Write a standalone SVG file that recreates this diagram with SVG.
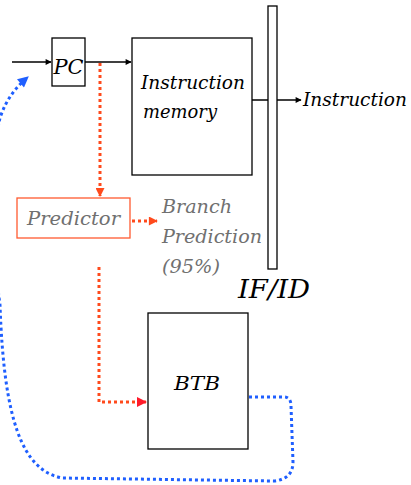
<svg xmlns="http://www.w3.org/2000/svg" width="411" height="485" viewBox="0 0 411 485">
  <style>
    .box { fill: #fff; stroke: #000; stroke-width: 1.3; }
    .lbl { font-family: "DejaVu Serif", serif; font-style: italic; fill: #000; }
    .gray { font-family: "DejaVu Serif", serif; font-style: italic; fill: #707070; }
    .wire { stroke: #000; stroke-width: 1.3; fill: none; }
    .red { stroke: #ff4a1c; stroke-width: 3; stroke-dasharray: 3 3; fill: none; }
    .blue { stroke: #1f5fff; stroke-width: 3; stroke-dasharray: 3 3; fill: none; }
  </style>
  <defs>
    <marker id="ah" viewBox="0 0 10 10" refX="9" refY="5" markerWidth="8" markerHeight="6" markerUnits="userSpaceOnUse" orient="auto">
      <path d="M0,0 L10,5 L0,10 z" fill="#000"/>
    </marker>
    <marker id="ahr" viewBox="0 0 10 10" refX="9" refY="5" markerWidth="10" markerHeight="9" markerUnits="userSpaceOnUse" orient="auto">
      <path d="M0,0 L10,5 L0,10 z" fill="#ff4a1c"/>
    </marker>
    <marker id="ahred" viewBox="0 0 10 10" refX="9" refY="5" markerWidth="12" markerHeight="10" markerUnits="userSpaceOnUse" orient="auto">
      <path d="M0,0 L10,5 L0,10 z" fill="#ff1a2a"/>
    </marker>
    <marker id="ahb" viewBox="0 0 10 10" refX="9" refY="5" markerWidth="12" markerHeight="11" markerUnits="userSpaceOnUse" orient="auto">
      <path d="M0,0 L10,5 L0,10 z" fill="#1f5fff"/>
    </marker>
  </defs>

  <g id="connectors">
    <line class="wire" x1="12" y1="62" x2="51" y2="62" marker-end="url(#ah)"/>
    <line class="wire" x1="85" y1="62" x2="131" y2="62" marker-end="url(#ah)"/>
    <line class="wire" x1="252" y1="100" x2="301" y2="100" marker-end="url(#ah)"/>
    <path class="red" d="M100,63 L100,196" marker-end="url(#ahr)"/>
    <path class="red" d="M132,221 L157,221" marker-end="url(#ahr)"/>
    <path class="red" d="M99,267 L99,402 L146,402" marker-end="url(#ahred)"/>
    <!-- BTB target feeds back round the left edge into the PC -->
    <path class="blue" d="M249,397 L284,397 Q291,397 291,406 L293,462 Q293,479 274,481 L62,478 C22,470 4,420 0,305 C-10,230 -10,160 0,118 C6,100 15,88 28,77" marker-end="url(#ahb)"/>
  </g>

  <g id="pc">
    <rect class="box" x="52" y="38" width="33" height="48"/>
    <text class="lbl" x="68.5" y="74" font-size="20" text-anchor="middle" textLength="30" lengthAdjust="spacingAndGlyphs">PC</text>
  </g>

  <g id="imem">
    <rect class="box" x="132" y="38" width="120" height="137"/>
    <text class="lbl" x="193" y="89" font-size="18" text-anchor="middle" textLength="104" lengthAdjust="spacingAndGlyphs">Instruction</text>
    <text class="lbl" x="180" y="118" font-size="18" text-anchor="middle" textLength="74" lengthAdjust="spacingAndGlyphs">memory</text>
  </g>

  <g id="ifid">
    <rect class="box" x="268" y="6" width="9" height="263"/>
    <text class="lbl" x="274" y="298" font-size="26" text-anchor="middle" textLength="72" lengthAdjust="spacingAndGlyphs">IF/ID</text>
  </g>

  <g id="instruction-out">
    <text class="lbl" x="303" y="106" font-size="18" textLength="104" lengthAdjust="spacingAndGlyphs">Instruction</text>
  </g>

  <g id="predictor">
    <rect x="17" y="198" width="113" height="40" fill="#fff" stroke="#ff5a30" stroke-width="1.3"/>
    <text class="gray" x="73.5" y="225" font-size="18" text-anchor="middle" textLength="93" lengthAdjust="spacingAndGlyphs">Predictor</text>
  </g>

  <g id="branch-prediction">
    <text class="gray" x="162" y="213" font-size="18" textLength="70" lengthAdjust="spacingAndGlyphs">Branch</text>
    <text class="gray" x="162" y="243" font-size="18" textLength="100" lengthAdjust="spacingAndGlyphs">Prediction</text>
    <text class="gray" x="162" y="273" font-size="18" textLength="58" lengthAdjust="spacingAndGlyphs">(95%)</text>
  </g>

  <g id="btb">
    <rect class="box" x="148" y="313" width="100" height="136"/>
    <text class="lbl" x="197" y="390" font-size="18" text-anchor="middle" textLength="46" lengthAdjust="spacingAndGlyphs">BTB</text>
  </g>
</svg>
